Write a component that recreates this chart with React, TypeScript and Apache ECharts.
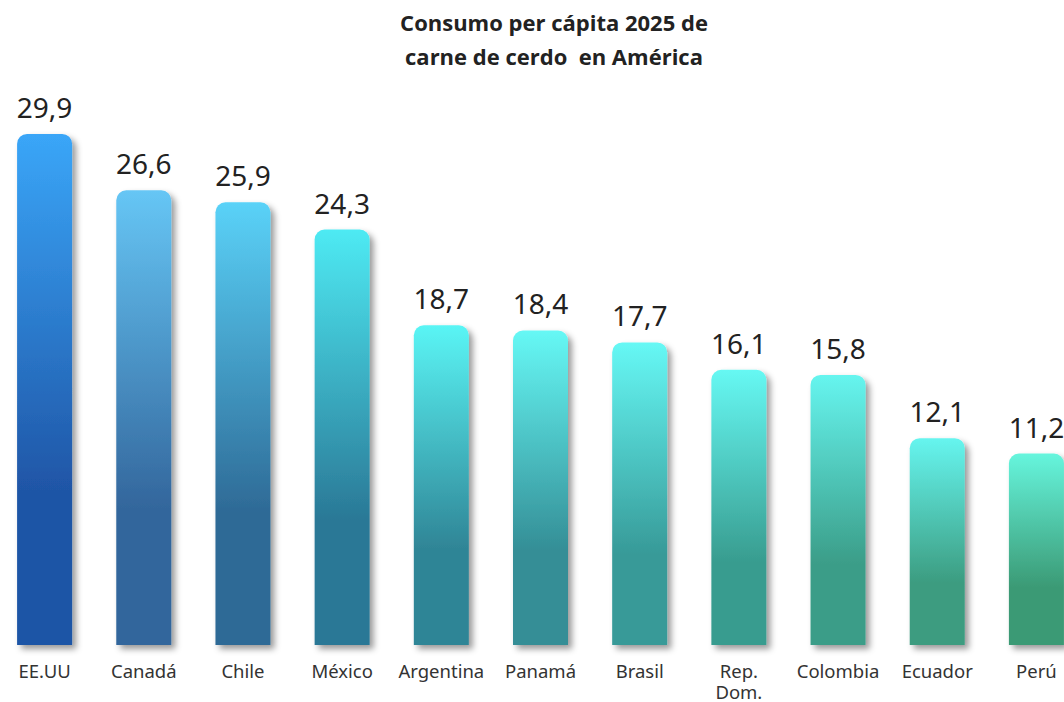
import React, { useEffect, useRef } from "react";
import * as echarts from "echarts";

const categories = ["EE.UU", "Canadá", "Chile", "México", "Argentina", "Panamá", "Brasil", "Rep.\nDom.", "Colombia", "Ecuador", "Perú"];
const values = [29.9, 26.6, 25.9, 24.3, 18.7, 18.4, 17.7, 16.1, 15.8, 12.1, 11.2];
const titleText = "Consumo per cápita 2025 de\ncarne de cerdo  en América";

const topColors = ["#3aa6f8", "#66c6f5", "#5ad2f8", "#4eeaf3", "#5af5f5", "#66f8f5", "#66f8f5", "#66f8f3", "#66f5ef", "#66f5ef", "#66f5dd"];
const baseColors = ["#1f55a6", "#33669c", "#2e6a96", "#2a7896", "#2f8596", "#348e96", "#379a98", "#389c8f", "#3b9d88", "#3c9c80", "#3b9a75"];

export default function App() {
  const ref = useRef<HTMLDivElement>(null);
  useEffect(() => {
    const chart = echarts.init(ref.current!, null, { renderer: "svg" });
    const fmt = (v: number) => v.toFixed(1).replace(".", ",");
    chart.setOption({
      animation: false,
      backgroundColor: "#ffffff",
      title: {
        text: titleText,
        left: 549,
        textAlign: "center",
        top: 0,
        textStyle: {
          fontFamily: "Open Sans",
          fontWeight: "bold",
          fontSize: 22,
          lineHeight: 34,
          color: "#222222",
        },
      },
      grid: { left: -5, width: 1091, top: 98, bottom: 57, outerBoundsMode: "none" },
      xAxis: {
        type: "category",
        data: categories,
        axisLine: { show: false },
        axisTick: { show: false },
        axisLabel: {
          interval: 0,
          margin: 15,
          fontFamily: "Noto Sans",
          fontSize: 18.5,
          lineHeight: 21,
          color: "#333333",
          hideOverlap: false,
        },
      },
      yAxis: {
        type: "value",
        min: 0,
        max: 32,
        show: false,
        splitLine: { show: false },
      },
      series: [
        {
          type: "bar",
          barWidth: 55,
          data: values.map((v, i) => ({
            value: v,
            itemStyle: {
              color: new echarts.graphic.LinearGradient(0, 0, 0, 1, [
                { offset: 0, color: topColors[i] },
                { offset: 0.7, color: baseColors[i] },
                { offset: 1, color: baseColors[i] },
              ]),
            },
          })),
          itemStyle: {
            borderRadius: [10, 10, 0, 0],
            shadowColor: "rgba(0,0,0,0.4)",
            shadowBlur: 6,
            shadowOffsetX: 4,
            shadowOffsetY: 4,
          },
          label: {
            show: true,
            position: "top",
            distance: 13,
            formatter: (p: any) => fmt(p.value),
            fontFamily: "Noto Sans",
            fontSize: 28,
            color: "#222222",
          },
        },
      ],
    });
    return () => chart.dispose();
  }, []);
  return <div ref={ref} style={{ width: 1064, height: 702, position: "absolute", left: 0, top: 0 }} />;
}
